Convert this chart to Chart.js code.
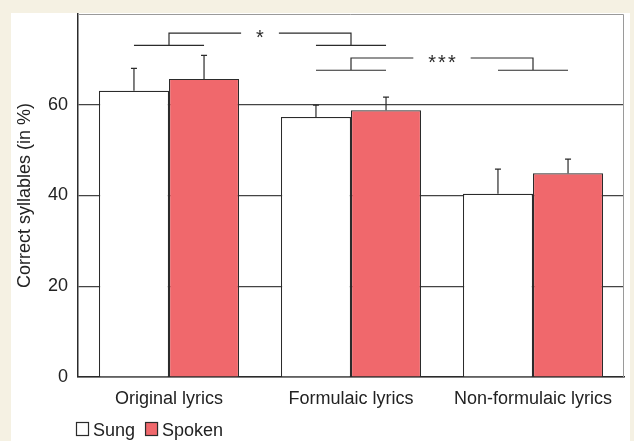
<!doctype html>
<html lang="en">
  <head>
    <meta charset="utf-8">
    <title>Correct syllables</title>
    <script src="https://cdn.jsdelivr.net/npm/chart.js"></script>
    <style>
      html, body {
        margin: 0;
        padding: 0;
        background: #f5f1e3;
      }
      .panel {
        position: absolute;
        left: 11px;
        top: 13px;
        width: 619px;
        height: 428px;
        background: #fff;
      }
    </style>
  </head>
  <body>
    <div class="panel">
      <canvas id="chart" width="619" height="428"></canvas>
    </div>

    <script>
      const categories = ['Original lyrics', 'Formulaic lyrics', 'Non-formulaic lyrics'];
      const sung = [63.1, 57.3, 40.4];
      const spoken = [65.7, 58.8, 44.9];
      const sungErr = [4.9, 2.6, 5.4];
      const spokenErr = [5.2, 2.9, 3.1];
      const yTicks = [0, 20, 40, 60];
      // significance brackets between category groups
      const sigPairs = [[0, 1], [1, 2]];
      const sigLabels = ['*', '***'];

      const ink = '#2b2b2b';
      const red = '#f0686c';

      const errorBars = {
        id: 'errorBars',
        afterDatasetsDraw(chart) {
          const ctx = chart.ctx;
          const y = chart.scales.y;
          const errs = [sungErr, spokenErr];
          ctx.save();
          ctx.strokeStyle = ink;
          ctx.lineWidth = 1.2;
          chart.data.datasets.forEach((ds, d) => {
            chart.getDatasetMeta(d).data.forEach((bar, i) => {
              const top = y.getPixelForValue(ds.data[i] + errs[d][i]);
              ctx.beginPath();
              ctx.moveTo(bar.x, bar.y);
              ctx.lineTo(bar.x, top);
              ctx.moveTo(bar.x - 3, top);
              ctx.lineTo(bar.x + 3, top);
              ctx.stroke();
            });
          });
          ctx.restore();
        }
      };

      const brackets = {
        id: 'brackets',
        afterDraw(chart) {
          const ctx = chart.ctx;
          const x = chart.scales.x;
          const y = chart.scales.y;
          const m0 = chart.getDatasetMeta(0).data;
          const m1 = chart.getDatasetMeta(1).data;
          const levels = [[75.8, 73.1], [70.3, 67.6]];
          ctx.save();
          ctx.strokeStyle = ink;
          ctx.fillStyle = ink;
          ctx.lineWidth = 1.2;
          ctx.font = '20px "Liberation Sans", Arial, sans-serif';
          ctx.letterSpacing = '2px';
          ctx.textAlign = 'center';
          ctx.textBaseline = 'alphabetic';
          sigPairs.forEach(([a, b], k) => {
            const hi = y.getPixelForValue(levels[k][0]);
            const lo = y.getPixelForValue(levels[k][1]);
            const xa = x.getPixelForValue(a);
            const xb = x.getPixelForValue(b);
            const mid = (xa + xb) / 2;
            const gap = ctx.measureText(sigLabels[k]).width / 2 + 14;
            ctx.beginPath();
            // group lines
            [a, b].forEach(i => {
              ctx.moveTo(m0[i].x, lo);
              ctx.lineTo(m1[i].x, lo);
            });
            ctx.moveTo(xa, lo);
            ctx.lineTo(xa, hi);
            ctx.lineTo(mid - gap, hi);
            ctx.moveTo(mid + gap, hi);
            ctx.lineTo(xb, hi);
            ctx.lineTo(xb, lo);
            ctx.stroke();
            ctx.fillText(sigLabels[k], mid + 1, hi + 11);
          });
          ctx.letterSpacing = '0px';

          // light frame on top and right
          const a = chart.chartArea;
          ctx.strokeStyle = '#9a9a9a';
          ctx.lineWidth = 1;
          ctx.beginPath();
          ctx.moveTo(a.left, a.top + 0.5);
          ctx.lineTo(a.right - 0.5, a.top + 0.5);
          ctx.lineTo(a.right - 0.5, a.bottom);
          ctx.stroke();

          // legend
          let lx = 65;
          const ly = 409;
          ctx.font = '18px "Liberation Sans", Arial, sans-serif';
          ctx.textAlign = 'left';
          ctx.lineWidth = 1.2;
          chart.data.datasets.forEach(ds => {
            ctx.fillStyle = ds.backgroundColor;
            ctx.fillRect(lx, ly, 13, 14);
            ctx.strokeStyle = ink;
            ctx.strokeRect(lx + 0.5, ly + 0.5, 12, 13);
            ctx.fillStyle = '#222';
            ctx.fillText(ds.label, lx + 17, ly + 14);
            lx += 17 + ctx.measureText(ds.label).width + 10;
          });
          ctx.restore();
        }
      };

      Chart.defaults.font.family = '"Liberation Sans", Arial, sans-serif';
      Chart.defaults.font.size = 18;
      Chart.defaults.color = '#222';

      new Chart(document.getElementById('chart'), {
        type: 'bar',
        data: {
          labels: categories,
          datasets: [
            { label: 'Sung', data: sung, backgroundColor: '#ffffff', borderColor: ink, borderWidth: 1.2 },
            { label: 'Spoken', data: spoken, backgroundColor: red, borderColor: ink, borderWidth: 1.2 }
          ]
        },
        options: {
          responsive: false,
          animation: false,
          layout: { padding: { top: 1, right: 6, left: 0, bottom: 0 } },
          datasets: { bar: { categoryPercentage: 0.77, barPercentage: 1 } },
          plugins: { legend: { display: false }, tooltip: { enabled: false } },
          scales: {
            x: {
              grid: { display: false },
              border: { color: ink, width: 1.5 },
              ticks: { padding: 3, color: '#222' },
              afterFit(scale) {
                scale.height = 64;
                scale.paddingLeft = 0;
                scale.paddingRight = 0;
              }
            },
            y: {
              min: 0,
              max: 80,
              afterBuildTicks(scale) { scale.ticks = yTicks.map(v => ({ value: v })); },
              grid: { color: '#444', lineWidth: 1.2, drawTicks: false },
              border: { color: ink, width: 1.5 },
              ticks: { padding: 10, color: '#222' },
              title: {
                display: true,
                text: 'Correct syllables (in %)',
                color: '#222',
                padding: { top: 3, bottom: 0 }
              },
              afterFit(scale) {
                scale.width = 67;
                scale.paddingTop = 0;
                scale.paddingBottom = 0;
              }
            }
          }
        },
        plugins: [errorBars, brackets]
      });
    </script>
  </body>
</html>
